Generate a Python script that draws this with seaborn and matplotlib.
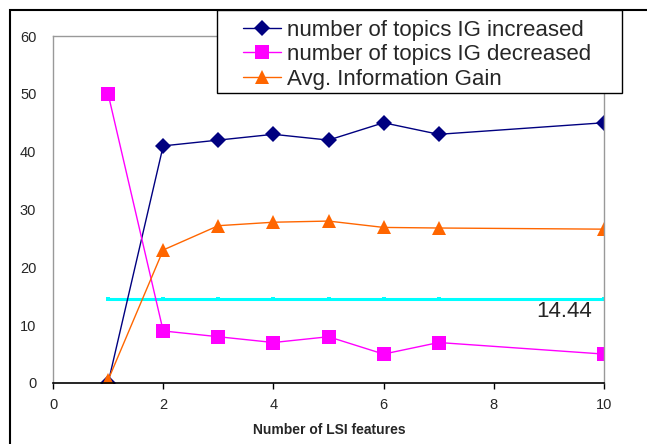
import matplotlib
matplotlib.use("Agg")
import matplotlib.pyplot as plt
import matplotlib.patches as mpatches
import seaborn as sns
import pandas as pd

x_vals = [1, 2, 3, 4, 5, 6, 7, 10]
ig_increased = [0, 41, 42, 43, 42, 45, 43, 45]
ig_decreased = [50, 9, 8, 7, 8, 5, 7, 5]
avg_ig = [0.5, 23, 27.2, 27.8, 28, 26.9, 26.8, 26.6]
baseline_value = 14.44
series_names = ["number of topics IG increased", "number of topics IG decreased", "Avg. Information Gain"]
x_ticks = [0, 2, 4, 6, 8, 10]
y_ticks = [0, 10, 20, 30, 40, 50, 60]

sns.set_style("white")
plt.rcParams['font.family'] = ['Liberation Sans', 'DejaVu Sans']

W, H = 647, 444
fig = plt.figure(figsize=(W/100, H/100), dpi=100)
ax = fig.add_axes([53/W, 1-383/H, (604-53)/W, (383-36)/H])

df = pd.DataFrame({"x": x_vals, "inc": ig_increased, "dec": ig_decreased,
                   "avg": avg_ig, "base": [baseline_value]*len(x_vals)})

sns.lineplot(data=df, x="x", y="base", ax=ax, color="#00FFFF", lw=2.2,
             marker="s", markersize=3, markeredgewidth=0, label="_nolegend_")
sns.lineplot(data=df, x="x", y="inc", ax=ax, color="#000080", lw=1,
             marker="D", markersize=8, markeredgewidth=0, label=series_names[0])
sns.lineplot(data=df, x="x", y="dec", ax=ax, color="#FF00FF", lw=1,
             marker="s", markersize=9.5, markeredgewidth=0, label=series_names[1])
sns.lineplot(data=df, x="x", y="avg", ax=ax, color="#FF6600", lw=1,
             marker="^", markersize=10.5, markeredgewidth=0, label=series_names[2])

ax.set_xlim(0, 10)
ax.set_ylim(0, 60)
ax.set_xticks(x_ticks)
ax.set_yticks(y_ticks)
ax.set_xlabel("")
ax.set_ylabel("")
for s in ["left", "top", "right"]:
    ax.spines[s].set_color("#999999")
    ax.spines[s].set_linewidth(1)
ax.spines["bottom"].set_color("black")
ax.spines["bottom"].set_linewidth(1.2)
ax.tick_params(axis="x", direction="out", length=4, width=1, color="black",
               pad=7, labelsize=10.5, bottom=True)
ax.tick_params(axis="y", length=0, pad=12, labelsize=10.5)

ax.text(9.78, baseline_value - 0.3, f"{baseline_value:.2f}", ha="right", va="top", fontsize=16)

fig.text(329/W, 1-430/H, "Number of LSI features", ha="center", va="center",
         fontsize=10, fontweight="bold")

handles, labels = ax.get_legend_handles_labels()
if ax.get_legend():
    ax.get_legend().remove()

# legend box
fig.add_artist(mpatches.Rectangle((217/W, 1-93/H), (622-217)/W, (93-10)/H, transform=fig.transFigure,
                                  facecolor="white", edgecolor="black", lw=1, zorder=4.9))
leg = fig.legend(handles, labels, loc="upper left", bbox_to_anchor=(243/W, 1-19.5/H),
                 borderaxespad=0, frameon=False, fontsize=16, handlelength=1.71,
                 handletextpad=0.27, labelspacing=0.17, borderpad=0)
leg.set_zorder(5)

# outer chart frame
fig.add_artist(mpatches.Rectangle((10/W, -0.1), 1.0, 1-10/H+0.1, transform=fig.transFigure,
                                  fill=False, edgecolor="black", lw=1.5, zorder=0))

fig.savefig("out.png", dpi=100)
